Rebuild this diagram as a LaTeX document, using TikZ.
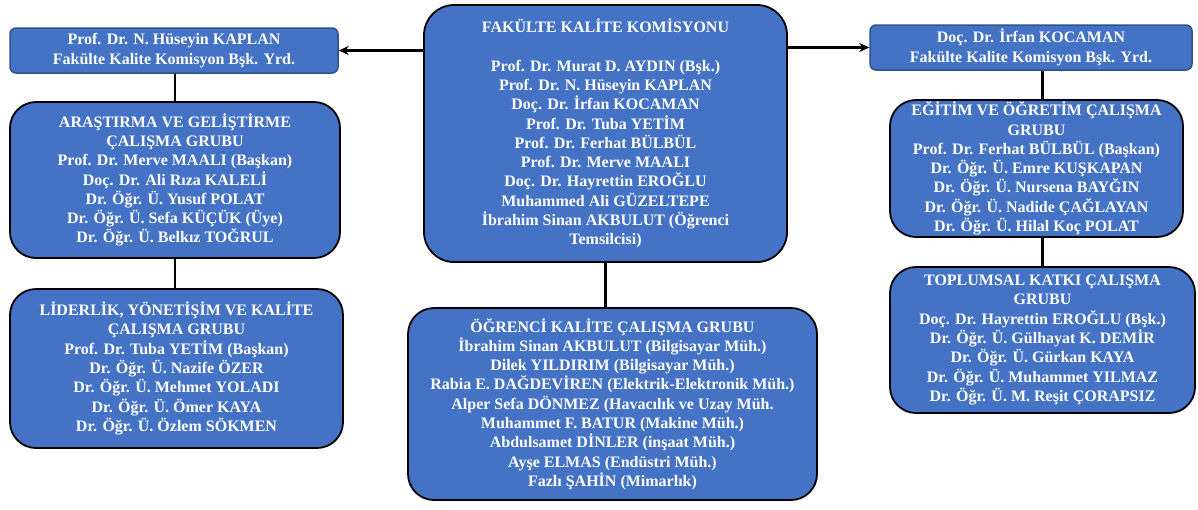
\documentclass[tikz,border=0pt]{standalone}
\usepackage{fontspec}
\setmainfont{Liberation Serif}
\usetikzlibrary{arrows.meta}

\definecolor{kutumavi}{HTML}{4472C4}
\definecolor{kenarmavi}{HTML}{2F528F}

\tikzset{
  yazi/.style={text=white, font=\bfseries\fontsize{16}{19.3}\selectfont, align=center, inner sep=0pt},
  kucukkutu/.style={yazi, draw=kenarmavi, line width=1.5pt, fill=kutumavi, rounded corners=6pt},
  grupkutu/.style={yazi, draw=black, line width=1.8pt, fill=kutumavi, rounded corners=26pt},
  baglanti/.style={line width=2.6pt, black},
  ok/.style={baglanti, -{Stealth[length=10pt,width=9pt]}}
}

\begin{document}
\begin{tikzpicture}[x=1pt, y=-1pt]
  \useasboundingbox (0,0) rectangle (1198,509);

  % Komisyon
  \node[grupkutu, rounded corners=30pt, minimum width=363pt, minimum height=257pt] (komisyon) at (605.5,133.5)
    {FAKÜLTE KALİTE KOMİSYONU\\[19.3pt]
     Prof. Dr. Murat D. AYDIN (Bşk.)\\
     Prof. Dr. N. Hüseyin KAPLAN\\
     Doç. Dr. İrfan KOCAMAN\\
     Prof. Dr. Tuba YETİM\\
     Prof. Dr. Ferhat BÜLBÜL\\
     Prof. Dr. Merve MAALI\\
     Doç. Dr. Hayrettin EROĞLU\\
     Muhammed Ali GÜZELTEPE\\
     İbrahim Sinan AKBULUT (Öğrenci\\
     Temsilcisi)};

  % Baskan yardimcilari
  \node[kucukkutu, minimum width=328pt, minimum height=45pt] (yrdsol) at (174,50.5)
    {Prof. Dr. N. Hüseyin KAPLAN\\ Fakülte Kalite Komisyon Bşk. Yrd.};
  \node[kucukkutu, minimum width=322pt, minimum height=45pt] (yrdsag) at (1031,47.5)
    {Doç. Dr. İrfan KOCAMAN\\ Fakülte Kalite Komisyon Bşk. Yrd.};

  % Sol gruplar
  \node[grupkutu, minimum width=330pt, minimum height=156pt] (arge) at (175,180)
    {ARAŞTIRMA VE GELİŞTİRME\\
     ÇALIŞMA GRUBU\\
     Prof. Dr. Merve MAALI (Başkan)\\
     Doç. Dr. Ali Rıza KALELİ\\
     Dr. Öğr. Ü. Yusuf POLAT\\
     Dr. Öğr. Ü. Sefa KÜÇÜK (Üye)\\
     Dr. Öğr. Ü. Belkız TOĞRUL};
  \node[grupkutu, minimum width=333pt, minimum height=159pt] (liderlik) at (176.5,368.5)
    {LİDERLİK, YÖNETİŞİM VE KALİTE\\
     ÇALIŞMA GRUBU\\
     Prof. Dr. Tuba YETİM (Başkan)\\
     Dr. Öğr. Ü. Nazife ÖZER\\
     Dr. Öğr. Ü. Mehmet YOLADI\\
     Dr. Öğr. Ü. Ömer KAYA\\
     Dr. Öğr. Ü. Özlem SÖKMEN};

  % Ogrenci grubu
  \node[grupkutu, minimum width=409pt, minimum height=192pt] (ogrenci) at (612.5,404)
    {ÖĞRENCİ KALİTE ÇALIŞMA GRUBU\\
     İbrahim Sinan AKBULUT (Bilgisayar Müh.)\\
     Dilek YILDIRIM (Bilgisayar Müh.)\\
     Rabia E. DAĞDEVİREN (Elektrik-Elektronik Müh.)\\
     Alper Sefa DÖNMEZ (Havacılık ve Uzay Müh.\\
     Muhammet F. BATUR (Makine Müh.)\\
     Abdulsamet DİNLER (inşaat Müh.)\\
     Ayşe ELMAS (Endüstri Müh.)\\
     Fazlı ŞAHİN (Mimarlık)};

  % Sag gruplar
  \node[grupkutu, minimum width=293pt, minimum height=137pt] (egitim) at (1036.5,168.5)
    {EĞİTİM VE ÖĞRETİM ÇALIŞMA\\
     GRUBU\\
     Prof. Dr. Ferhat BÜLBÜL (Başkan)\\
     Dr. Öğr. Ü. Emre KUŞKAPAN\\
     Dr. Öğr. Ü. Nursena BAYĞIN\\
     Dr. Öğr. Ü. Nadide ÇAĞLAYAN\\
     Dr. Öğr. Ü. Hilal Koç POLAT};
  \node[grupkutu, minimum width=305pt, minimum height=146pt] (toplumsal) at (1042.5,340)
    {TOPLUMSAL KATKI ÇALIŞMA\\
     GRUBU\\
     Doç. Dr. Hayrettin EROĞLU (Bşk.)\\
     Dr. Öğr. Ü. Gülhayat K. DEMİR\\
     Dr. Öğr. Ü. Gürkan KAYA\\
     Dr. Öğr. Ü. Muhammet YILMAZ\\
     Dr. Öğr. Ü. M. Reşit ÇORAPSIZ};

  % Oklar
  \draw[ok] (komisyon.west |- yrdsol.east) -- (yrdsol.east);
  \draw[ok] (komisyon.east |- yrdsag.west) -- (yrdsag.west);

  % Dikey baglantilar
  \draw[baglanti] (arge.north |- yrdsol.south) -- (arge.north);
  \draw[baglanti] (arge.south) -- (arge.south |- liderlik.north);
  \draw[baglanti] (komisyon.south) -- (komisyon.south |- ogrenci.north);
  \draw[baglanti] (toplumsal.north |- yrdsag.south) -- (toplumsal.north |- egitim.north);
  \draw[baglanti] (toplumsal.north |- egitim.south) -- (toplumsal.north);

\end{tikzpicture}
\end{document}
